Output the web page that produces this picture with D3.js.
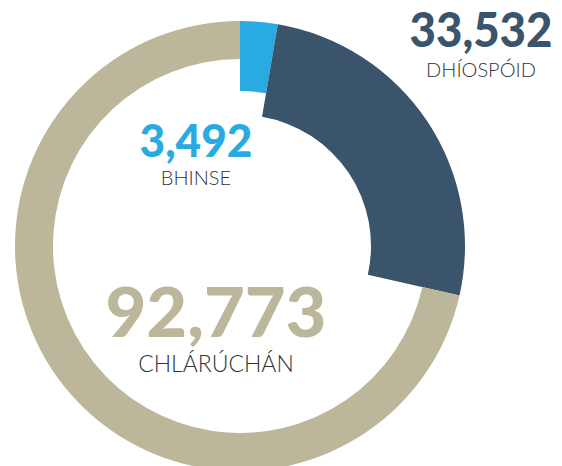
<!DOCTYPE html>
<html>
<head>
<meta charset="utf-8">
<script src="https://cdn.jsdelivr.net/npm/d3@7/dist/d3.min.js"></script>
<style>
  html, body { margin: 0; padding: 0; background: #fff; }
  svg { display: block; }
</style>
</head>
<body>
<svg id="chart" width="562" height="466"></svg>
<script>
// ---- data ----
const categories = ["BHINSE", "DHÍOSPÓID", "CHLÁRÚCHÁN"];
const values = [3492, 33532, 92773];
const colors = ["#29ABE2", "#39546B", "#BCB79B"];

// ---- styling / layout ----
const cx = 240, cy = 246;
const outerR = 225;
const innerRs = [155, 131, 187];
const labelPos = [
  { x: 196, numY: 157, labY: 185, numSize: 46, numW: 113, labSize: 20 },
  { x: 481, numY: 47, labY: 77, numSize: 47, numW: 143, labSize: 20 },
  { x: 216, numY: 337, labY: 372, numSize: 68, numW: 221, labSize: 23 }
];

const svg = d3.select("#chart");
const g = svg.append("g").attr("transform", `translate(${cx},${cy})`);

const pie = d3.pie().sort(null).value(d => d)(values);

g.selectAll("path.seg")
  .data(pie)
  .join("path")
  .attr("class", "seg")
  .attr("fill", (d, i) => colors[i])
  .attr("d", (d, i) => d3.arc().innerRadius(innerRs[i]).outerRadius(outerR)(d));

const fmt = d3.format(",");

categories.forEach((c, i) => {
  const p = labelPos[i];
  const num = svg.append("text")
    .attr("x", p.x).attr("y", p.numY)
    .attr("text-anchor", "middle")
    .style("font-family", "Lato, 'Open Sans', sans-serif")
    .style("font-weight", 900)
    .style("font-size", p.numSize + "px")
    .attr("fill", colors[i])
    .text(fmt(values[i]));
  const w = num.node().getComputedTextLength();
  if (w > 0) num.attr("textLength", p.numW).attr("lengthAdjust", "spacingAndGlyphs");

  svg.append("text")
    .attr("x", p.x).attr("y", p.labY)
    .attr("text-anchor", "middle")
    .style("font-family", "Lato, 'Open Sans', sans-serif")
    .style("font-weight", 300)
    .style("font-size", p.labSize + "px")
    .attr("fill", "#333")
    .text(c);
});
</script>
</body>
</html>
